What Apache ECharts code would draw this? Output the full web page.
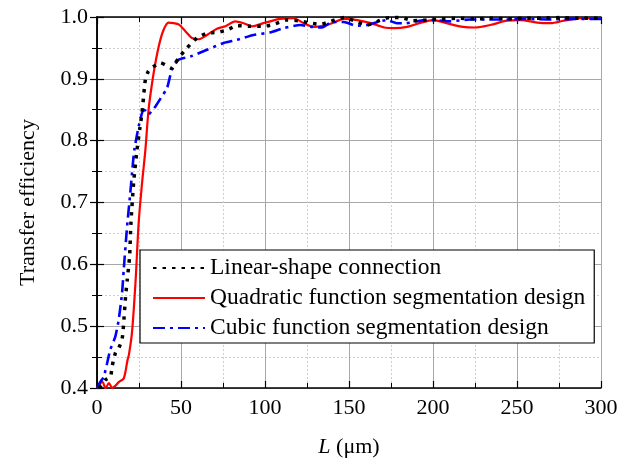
<!DOCTYPE html>
<html>
<head>
<meta charset="utf-8">
<script src="https://cdn.jsdelivr.net/npm/echarts@6/dist/echarts.min.js"></script>
<style>
  html, body { margin: 0; padding: 0; background: #fff; }
  #chart { width: 619px; height: 461px; }
</style>
</head>
<body>
<div id="chart"></div>
<script>
// Transfer efficiency versus taper length L for three connection designs
const seriesNames = [
  'Linear-shape connection',
  'Quadratic function segmentation design',
  'Cubic function segmentation design'
];

const linearL = [1, 3, 5, 8, 9, 11, 13, 15, 16, 17, 18, 19.4, 20.2, 21.8, 23.8, 25.5, 26.8, 28.8, 30.5, 32, 35, 37.7, 41, 44.6, 46.5, 48.6, 53.6, 59.5, 65.5, 71.4, 77.4, 83.3, 91, 99, 105, 113, 120, 127, 133, 138, 147, 153, 160.6, 167, 174, 181, 188, 196, 205, 215, 225, 235, 245, 255, 265, 275, 285, 300];
const linearEff = [0.40, 0.405, 0.413, 0.418, 0.435, 0.457, 0.465, 0.48, 0.51, 0.548, 0.575, 0.613, 0.667, 0.732, 0.785, 0.82, 0.845, 0.899, 0.912, 0.917, 0.922, 0.926, 0.922, 0.917, 0.925, 0.934, 0.950, 0.966, 0.974, 0.975, 0.979, 0.986, 0.985, 0.985, 0.988, 0.995, 0.994, 0.990, 0.988, 0.992, 0.999, 0.994, 0.987, 0.993, 0.999, 0.999, 0.994, 0.995, 0.997, 0.998, 0.997, 0.998, 0.997, 0.998, 0.998, 0.999, 0.998, 0.998];

const quadL = [0, 1.2, 3.2, 5.1, 7.1, 9.1, 11.1, 13.1, 15, 16, 17, 18, 19, 20.8, 22.9, 24.8, 26.8, 28.8, 30.7, 33.7, 36.7, 39.6, 42.6, 45.6, 48.6, 52.6, 56.5, 60.5, 65.5, 71.4, 76.4, 82.3, 87.3, 92.3, 99, 103, 109, 117, 123, 129, 135, 141, 147, 155, 163, 171, 177, 184.5, 192, 200, 208, 218, 225, 234, 244, 252, 262, 270, 278, 288, 300];
const quadEff = [0.40, 0.405, 0.41, 0.40, 0.408, 0.40, 0.404, 0.41, 0.413, 0.416, 0.427, 0.443, 0.454, 0.489, 0.570, 0.667, 0.731, 0.785, 0.850, 0.909, 0.952, 0.979, 0.991, 0.990, 0.988, 0.977, 0.966, 0.964, 0.971, 0.981, 0.985, 0.993, 0.990, 0.985, 0.990, 0.993, 0.997, 0.998, 0.990, 0.984, 0.986, 0.991, 0.997, 0.995, 0.990, 0.983, 0.982, 0.984, 0.990, 0.995, 0.990, 0.984, 0.983, 0.987, 0.994, 0.995, 0.991, 0.990, 0.994, 0.998, 0.998];

const cubicL = [0, 2, 4, 6, 7.9, 10.9, 12.9, 14.9, 15.9, 17.9, 19.8, 21.4, 22.2, 24.8, 27.7, 29, 30.7, 32.5, 34.7, 38.7, 41.7, 44.6, 48.6, 55.5, 65.5, 75.4, 83.3, 93.2, 103, 111, 121, 128, 134, 140, 147, 154, 160.6, 167, 172.6, 178.5, 184, 190, 196, 201, 210, 222, 231, 244, 253, 268, 285, 300];
const cubicEff = [0.40, 0.41, 0.418, 0.44, 0.462, 0.483, 0.510, 0.553, 0.591, 0.661, 0.715, 0.764, 0.785, 0.823, 0.850, 0.848, 0.842, 0.848, 0.855, 0.872, 0.885, 0.915, 0.931, 0.936, 0.947, 0.958, 0.963, 0.971, 0.975, 0.982, 0.987, 0.984, 0.983, 0.992, 0.992, 0.986, 0.987, 0.992, 0.995, 0.990, 0.990, 0.993, 0.995, 0.995, 0.993, 0.996, 0.996, 0.996, 0.997, 0.996, 0.997, 0.997];

const xTicks = { min: 0, max: 300, step: 50 };
const yTicks = { min: 0.4, max: 1.0, step: 0.1 };

const pair = (xs, ys) => xs.map((x, i) => [x, ys[i]]);

const FONT = 'Liberation Serif';
const frame = { show: true, lineStyle: { color: '#000', width: 1.5 } };
const majorGrid = { show: true, lineStyle: { color: '#a8a8a8', width: 1 } };
const minorGrid = { show: true, lineStyle: { color: '#cfcfcf', width: 1, type: [2, 2] } };
const ticksIn = { show: true, inside: true, length: 7, lineStyle: { color: '#000', width: 1.2 } };
const minorIn = { show: true, splitNumber: 2, length: 5, lineStyle: { color: '#000', width: 1 } };

const chart = echarts.init(document.getElementById('chart'), null, { renderer: 'canvas' });

chart.setOption({
  backgroundColor: '#fff',
  animation: false,
  textStyle: { fontFamily: FONT },
  grid: { left: 97, right: 18, top: 17, bottom: 73, containLabel: false, outerBoundsMode: 'none' },
  legend: {
    data: seriesNames,
    orient: 'vertical',
    left: 140,
    top: 250,
    padding: [6, 9, 3, 12],
    itemGap: 6,
    itemWidth: 52,
    itemHeight: 14,
    itemStyle: { opacity: 0 },
    backgroundColor: '#fff',
    borderColor: '#000',
    borderWidth: 1.2,
    borderRadius: 0,
    textStyle: { fontFamily: FONT, fontSize: 23.5, color: '#000', lineHeight: 23 }
  },
  xAxis: [
    {
      type: 'value', position: 'bottom',
      min: xTicks.min, max: xTicks.max, interval: xTicks.step,
      axisLine: frame, axisTick: ticksIn, minorTick: minorIn,
      splitLine: majorGrid, minorSplitLine: minorGrid,
      axisLabel: { fontFamily: FONT, fontSize: 22, color: '#000', margin: 9 },
      name: '{i|L} (μm)', nameLocation: 'middle', nameGap: 48,
      nameTextStyle: {
        fontFamily: FONT, fontSize: 22, color: '#000',
        rich: { i: { fontFamily: FONT, fontSize: 22, fontStyle: 'italic', color: '#000' } }
      }
    },
    {
      type: 'value', position: 'top',
      min: xTicks.min, max: xTicks.max, interval: xTicks.step,
      axisLine: frame, axisTick: ticksIn, minorTick: minorIn,
      splitLine: { show: false }, axisLabel: { show: false }
    }
  ],
  yAxis: [
    {
      type: 'value', position: 'left',
      min: yTicks.min, max: yTicks.max, interval: yTicks.step,
      axisLine: frame, axisTick: ticksIn, minorTick: minorIn,
      splitLine: majorGrid, minorSplitLine: minorGrid,
      axisLabel: {
        fontFamily: FONT, fontSize: 22, color: '#000', margin: 9,
        formatter: v => v.toFixed(1)
      },
      name: 'Transfer efficiency', nameLocation: 'middle', nameGap: 58,
      nameTextStyle: { fontFamily: FONT, fontSize: 22, color: '#000' }
    },
    {
      type: 'value', position: 'right',
      min: yTicks.min, max: yTicks.max, interval: yTicks.step,
      axisLine: frame, axisTick: ticksIn, minorTick: minorIn,
      splitLine: { show: false }, axisLabel: { show: false }
    }
  ],
  series: [
    {
      name: seriesNames[1], type: 'line', data: pair(quadL, quadEff),
      showSymbol: false, symbol: 'none', smooth: 0.3, z: 3,
      itemStyle: { color: '#ff0000' },
      lineStyle: { color: '#ff0000', width: 2.2 }
    },
    {
      name: seriesNames[2], type: 'line', data: pair(cubicL, cubicEff),
      showSymbol: false, symbol: 'none', smooth: 0.2, z: 4,
      itemStyle: { color: '#0000ff' },
      lineStyle: { color: '#0000ff', width: 2.6, type: [12, 5, 3, 5] }
    },
    {
      name: seriesNames[0], type: 'line', data: pair(linearL, linearEff),
      showSymbol: false, symbol: 'none', smooth: 0.2, z: 5,
      itemStyle: { color: '#000' },
      lineStyle: { color: '#000', width: 3.5, type: [3.5, 6] }
    }
  ]
});
</script>
</body>
</html>
